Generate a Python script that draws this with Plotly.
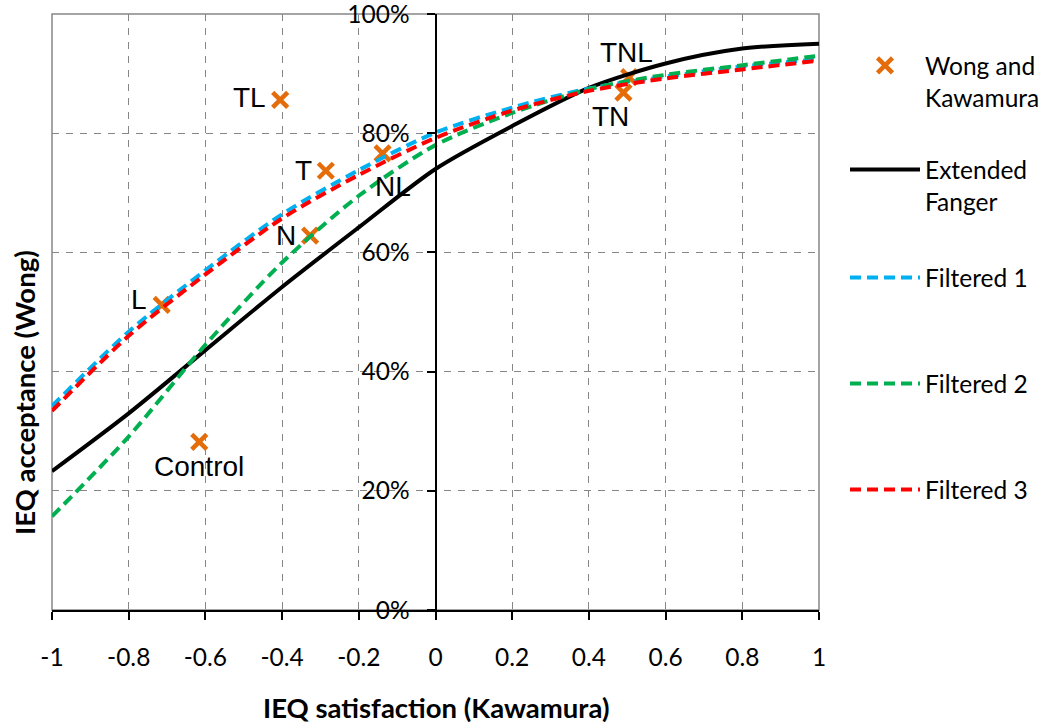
import plotly.graph_objects as go

# ---------------- data ----------------
x_pts = [-1.0, -0.8, -0.6, -0.4, -0.2, 0.0, 0.2, 0.4, 0.6, 0.8, 1.0]
fanger = [23.3, 33.0, 43.6, 54.2, 64.2, 74.0, 81.2, 87.6, 91.7, 94.2, 95.0]
filt1 = [34.2, 46.7, 57.0, 66.4, 73.8, 80.1, 84.3, 87.5, 89.5, 91.2, 92.4]
filt2 = [15.7, 29.1, 44.5, 58.3, 69.5, 78.0, 83.4, 87.4, 89.8, 91.4, 93.0]
filt3 = [33.4, 46.0, 56.3, 65.7, 73.0, 79.2, 83.8, 87.1, 89.2, 90.7, 92.2]

pt_labels = ["TL", "T", "NL", "N", "L", "Control", "TNL", "TN"]
pt_sat = [-0.405, -0.286, -0.138, -0.327, -0.714, -0.616, 0.505, 0.490]
pt_acc = [85.6, 73.7, 76.6, 62.8, 51.2, 28.2, 89.4, 86.8]

x_ticks = [-1, -0.8, -0.6, -0.4, -0.2, 0, 0.2, 0.4, 0.6, 0.8, 1]
x_ticklabels = ["-1", "-0.8", "-0.6", "-0.4", "-0.2", "0", "0.2", "0.4", "0.6", "0.8", "1"]
y_ticks = [0, 20, 40, 60, 80, 100]
y_ticklabels = ["0%", "20%", "40%", "60%", "80%", "100%"]

# ---------------- style ----------------
# (xanchor, xshift, yshift) for each point label
label_style = [("right", -12, 2), ("right", -12, 0), ("left", -10, -33), ("right", -12, 0),
               ("right", -13, 5), ("center", 0, -25), ("center", -3, 25), ("center", -13, -24)]
FONT = "Lato, 'Open Sans', sans-serif"
ORANGE = "#E46C0A"
GRID = "#878787"

fig = go.Figure()

fig.add_trace(go.Scatter(
    x=pt_sat, y=pt_acc, mode="markers", name="Wong and<br>Kawamura",
    marker=dict(symbol="x-thin", size=15, color=ORANGE,
                line=dict(color=ORANGE, width=4.5)),
    legend="legend", cliponaxis=False))

line_specs = [
    (fanger, "Extended<br>Fanger", "black", "solid", "legend2"),
    (filt1, "Filtered 1", "#00B0F0", "11px,6px", "legend3"),
    (filt2, "Filtered 2", "#00B050", "11px,6px", "legend4"),
    (filt3, "Filtered 3", "#FF0000", "11px,6px", "legend5"),
]
for ys, nm, col, dash, lg in line_specs:
    fig.add_trace(go.Scatter(
        x=x_pts, y=ys, mode="lines", name=nm, legend=lg,
        line=dict(color=col, width=4, dash=dash, shape="spline", smoothing=0.8)))

L, R, T, B = 52, 224, 14, 114
W, H = 1043, 724
pw, ph = W - L - R, H - T - B

def px_x(px):
    return (px - L) / pw

def px_y(py):
    return (H - B - py) / ph

leg_common = dict(font=dict(family=FONT, size=24.5, color="black"),
                  bgcolor="rgba(0,0,0,0)", borderwidth=0,
                  xanchor="left", yanchor="top", valign="top", itemwidth=70)
legend_tops = {"legend": 43, "legend2": 147, "legend3": 255, "legend4": 361, "legend5": 467}
legends = {k: dict(x=px_x(845), y=px_y(v), **leg_common) for k, v in legend_tops.items()}

annotations = []
for lab, sx, sy, (xa, dx, dy) in zip(pt_labels, pt_sat, pt_acc, label_style):
    annotations.append(dict(
        text=lab, x=sx, y=sy, xref="x", yref="y", showarrow=False,
        xanchor=xa, yanchor="middle", xshift=dx, yshift=dy,
        font=dict(family="'Liberation Sans', Arial, sans-serif", size=28, color="black")))

annotations += [
    dict(text="<b>IEQ satisfaction (Kawamura)</b>", xref="paper", yref="paper",
         x=0.5, y=px_y(707), xanchor="center", yanchor="middle", showarrow=False,
         font=dict(family=FONT, size=27.5, color="black")),
    dict(text="<b>IEQ acceptance (Wong)</b>", xref="paper", yref="paper",
         x=px_x(24), y=px_y(393), xanchor="center", yanchor="middle", showarrow=False,
         textangle=-90, font=dict(family=FONT, size=27.5, color="black")),
]

fig.update_layout(
    width=W, height=H,
    margin=dict(l=L, r=R, t=T, b=B, autoexpand=False),
    paper_bgcolor="white", plot_bgcolor="white",
    font=dict(family=FONT, size=24.5, color="black"),
    showlegend=True,
    **legends,
    xaxis=dict(range=[-1, 1], tickvals=x_ticks, ticktext=x_ticklabels,
               showgrid=True, gridcolor=GRID, griddash="7px,7px", gridwidth=1.3,
               zeroline=False, showline=True, linecolor="black", linewidth=2,
               ticks="outside", ticklen=8, tickwidth=2, tickcolor="black",
               ticklabelstandoff=17, automargin=False,
               tickfont=dict(family=FONT, size=24.5, color="black")),
    yaxis=dict(range=[0, 100], tickvals=y_ticks, ticktext=y_ticklabels,
               anchor="free", position=0.5, ticklabeloverflow="allow",
               showgrid=True, gridcolor=GRID, griddash="7px,7px", gridwidth=1.3,
               zeroline=False, showline=True, linecolor="black", linewidth=2,
               ticks="outside", ticklen=8, tickwidth=2, tickcolor="black",
               ticklabelstandoff=12, automargin=False,
               tickfont=dict(family=FONT, size=24.5, color="black")),
    shapes=[dict(type="rect", xref="x domain", yref="y domain", x0=0, x1=1, y0=0, y1=1,
                 line=dict(color=GRID, width=1.5), layer="below")],
    annotations=annotations,
)

fig.write_html("out.html")
